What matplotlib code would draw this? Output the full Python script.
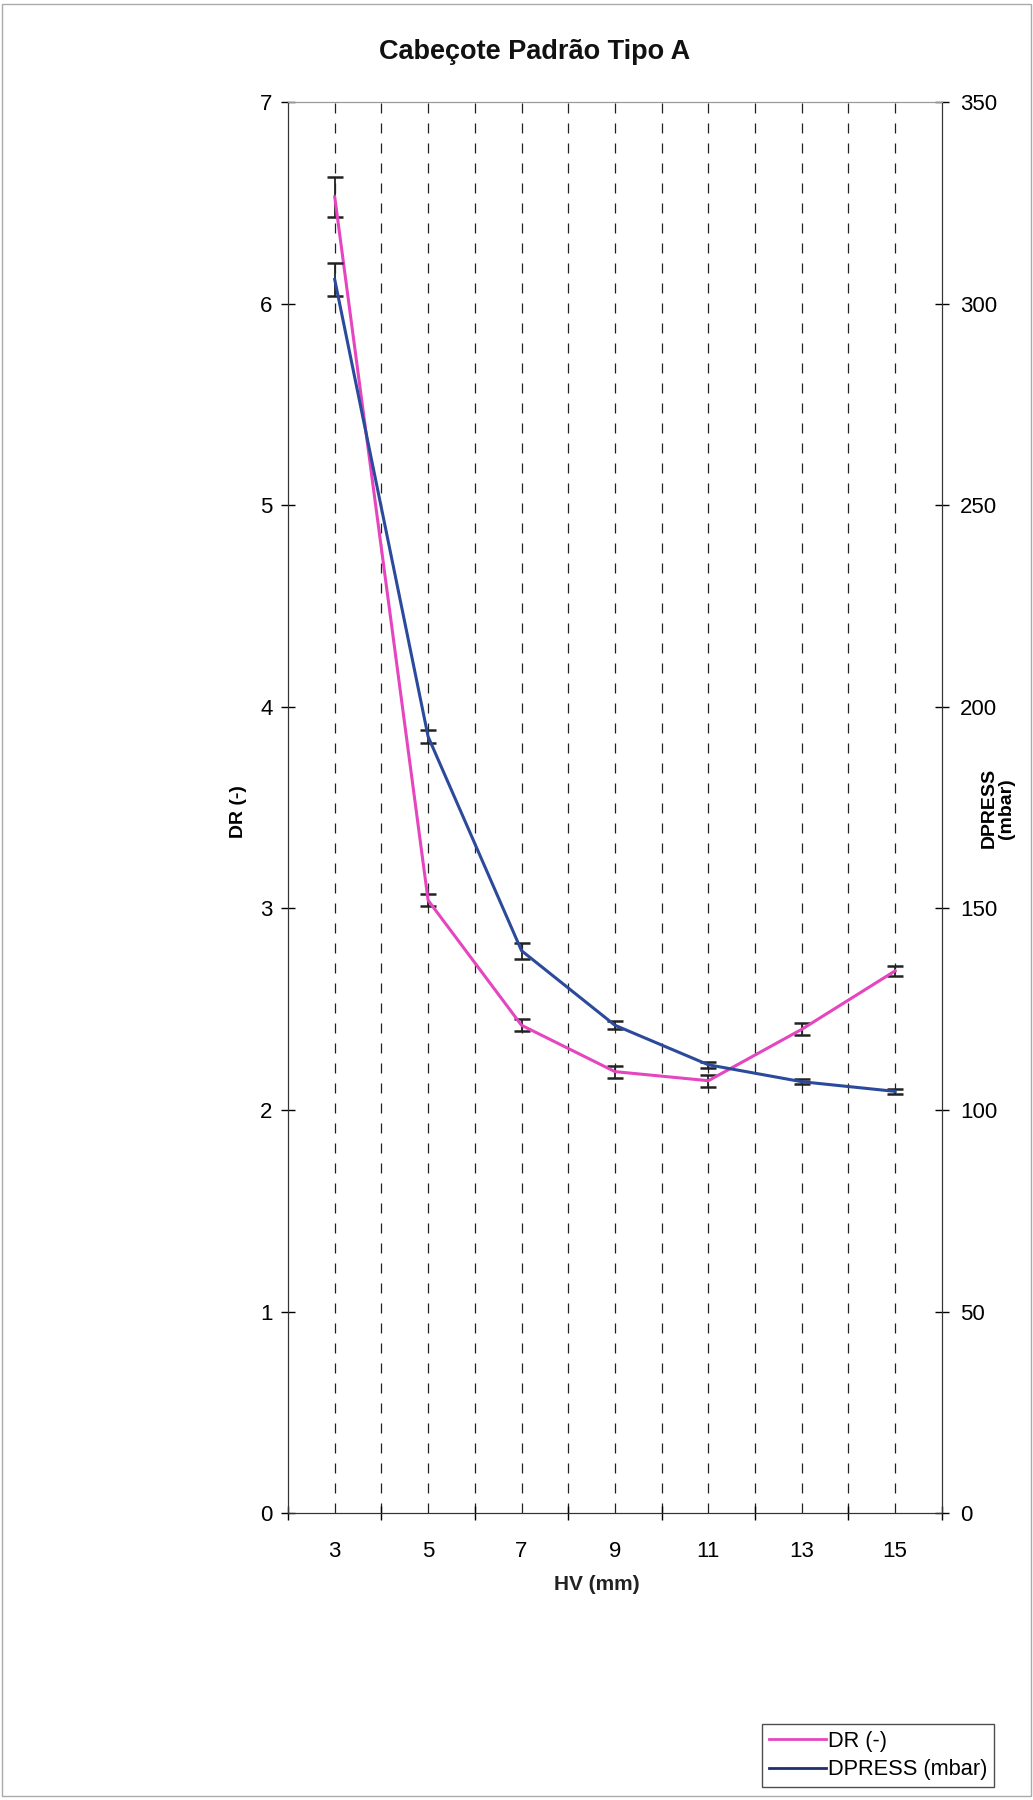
import matplotlib
matplotlib.use("Agg")
import matplotlib.pyplot as plt
from matplotlib.patches import Rectangle
from matplotlib.lines import Line2D

plt.rcParams['font.family'] = ['Liberation Sans', 'DejaVu Sans']

hv = [3, 5, 7, 9, 11, 13, 15]
dr = [6.53, 3.04, 2.42, 2.19, 2.145, 2.40, 2.69]
dr_err = [0.10, 0.03, 0.03, 0.03, 0.03, 0.03, 0.025]
dpress = [306, 192.6, 139.5, 121, 111.2, 107, 104.6]
dpress_err = [4.2, 1.7, 2.0, 1.0, 0.8, 0.6, 0.6]

pink = '#E545BE'
blue = '#2B4A9C'

fig = plt.figure(figsize=(10.33, 18), dpi=100)
fig.patches.append(Rectangle((0.002, 0.002), 0.996, 0.996, transform=fig.transFigure,
                             fill=False, edgecolor='#aaaaaa', lw=1))
ax = fig.add_axes([0.2788, 0.1594, 0.6330, 0.7839])
ax2 = ax.twinx()

ax.set_xlim(2, 16)
ax.set_ylim(0, 7)
ax2.set_ylim(0, 350)

ax.set_xticks(range(2, 17, 2))
ax.set_xticklabels([])
ax.set_xticks(hv, minor=True)
ax.set_xticklabels([str(v) for v in hv], minor=True)
ax.tick_params(axis='x', which='minor', length=0, pad=20, labelsize=16)
ax.tick_params(axis='x', which='major', direction='inout', length=10, width=1)
ax.set_yticks(range(0, 8))
ax.tick_params(axis='y', direction='inout', length=10, width=1, labelsize=16, pad=6)
ax2.set_yticks(range(0, 351, 50))
ax2.tick_params(axis='y', direction='inout', length=10, width=1, labelsize=16, pad=8)

# dashed vertical grid at every integer HV
for x in range(3, 16):
    ax.axvline(x, color='#222222', lw=0.9, ls=(0, (8, 8)), zorder=0)

for a in (ax, ax2):
    for s in ('left', 'bottom', 'right'):
        a.spines[s].set_color('#333333')
    a.spines['top'].set_color('#999999')

ax.errorbar(hv, dr, yerr=dr_err, color=pink, lw=2.2, ecolor='#222222',
            elinewidth=1.3, capsize=6, capthick=1.8, label='DR (-)', zorder=3)
ax2.errorbar(hv, dpress, yerr=dpress_err, color=blue, lw=2.2, ecolor='#222222',
             elinewidth=1.3, capsize=6, capthick=1.8, label='DPRESS (mbar)', zorder=3)

fig.text(0.518, 0.971, 'Cabeçote Padrão Tipo A', ha='center', va='center',
         fontsize=19.5, fontweight='bold', color='#111111')
fig.text(0.231, 0.549, 'DR (-)', rotation=90, ha='center', va='center',
         fontsize=14, fontweight='bold')
fig.text(0.966, 0.551, 'DPRESS\n(mbar)', rotation=90, ha='center', va='center',
         fontsize=14, fontweight='bold', linespacing=1.0)
fig.text(0.578, 0.12, 'HV (mm)', ha='center', va='center',
         fontsize=15, fontweight='bold', color='#222222')

handles = [Line2D([], [], color=pink, lw=2), Line2D([], [], color='#1F2F70', lw=2)]
leg = fig.legend(handles, ['DR (-)', 'DPRESS (mbar)'], loc='lower right',
                 bbox_to_anchor=(0.962, 0.0072),
                 fontsize=15.7, frameon=True, fancybox=False, edgecolor='#222222',
                 handlelength=2.6, handletextpad=0.1, borderpad=0.3,
                 labelspacing=0.35, borderaxespad=0)
leg.get_frame().set_linewidth(1)

fig.savefig('out.png', dpi=100)
